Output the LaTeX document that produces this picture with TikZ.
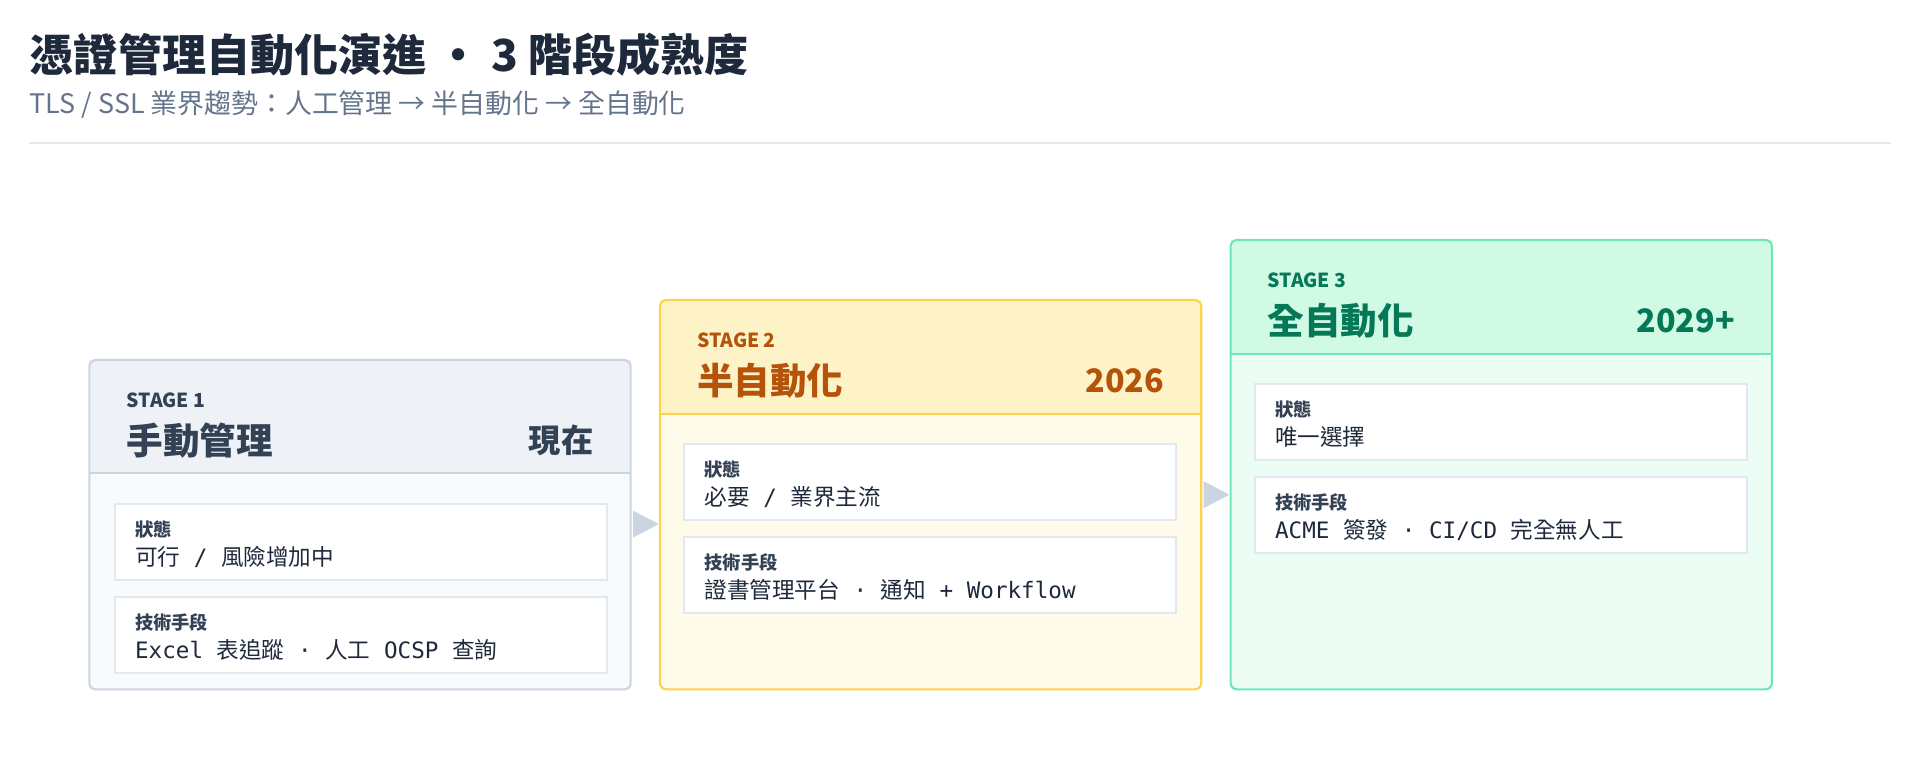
\documentclass[tikz,border=0pt]{standalone}
\usepackage{fontspec}
\setmainfont{Noto Sans CJK TC}
\newfontfamily\monofont{DejaVu Sans Mono}
\newcommand{\mn}[1]{{\monofont #1}}
\definecolor{ink}{HTML}{1E293B}
\definecolor{subgray}{HTML}{64748B}
\definecolor{rulegray}{HTML}{E2E8F0}
\definecolor{sOneHead}{HTML}{EEF2F7}
\definecolor{sOneBody}{HTML}{F8FAFC}
\definecolor{sOneLine}{HTML}{CBD5E1}
\definecolor{sOneText}{HTML}{334155}
\definecolor{sTwoHead}{HTML}{FEF3C7}
\definecolor{sTwoBody}{HTML}{FFFBEB}
\definecolor{sTwoLine}{HTML}{FCD34D}
\definecolor{sTwoText}{HTML}{B45309}
\definecolor{sThreeHead}{HTML}{D1FAE5}
\definecolor{sThreeBody}{HTML}{ECFDF5}
\definecolor{sThreeLine}{HTML}{6EE7B7}
\definecolor{sThreeText}{HTML}{047857}
\definecolor{arrowgray}{HTML}{CBD5E1}
\begin{document}
\begin{tikzpicture}
    [x=0.02cm,y=-0.02cm,
    stageTag/.style={anchor=west,inner sep=0pt,font=\fontsize{9}{11}\selectfont\bfseries},
    stageName/.style={anchor=west,inner sep=0pt,font=\fontsize{17}{20}\selectfont\bfseries},
    stageYear/.style={anchor=east,inner sep=0pt,font=\fontsize{15}{18}\selectfont\bfseries},
    cardBox/.style={draw=rulegray,fill=white,line width=0.8pt,rectangle,anchor=north west,minimum width=8.04cm,minimum height=1.24cm},
    cardKey/.style={anchor=west,inner sep=0pt,font=\fontsize{8.5}{10}\selectfont\bfseries,text=sOneText},
    cardVal/.style={anchor=west,inner sep=0pt,font=\fontsize{10.5}{12}\selectfont,text=ink}]

    % 畫布
    \useasboundingbox (0,0) rectangle (1568,625);

    % 標題
    \node[anchor=west,inner sep=0pt,text=ink,font=\fontsize{20.5}{24}\selectfont\bfseries] (title) at (24,45) {憑證管理自動化演進 ・ 3 階段成熟度};
    \node[anchor=west,inner sep=0pt,text=subgray,font=\fontsize{12.5}{15}\selectfont] (subtitle) at (24,85) {TLS / SSL 業界趨勢：人工管理 → 半自動化 → 全自動化};
    \draw[rulegray,line width=0.8pt] (24,117) -- (1544,117);

    % 階段外框
    \foreach \x/\top/\hb/\hc/\bc/\lc in {73/294/386/sOneHead/sOneBody/sOneLine,
                                         539/245/338/sTwoHead/sTwoBody/sTwoLine,
                                         1005/196/289/sThreeHead/sThreeBody/sThreeLine}
    {
        \fill[\bc] (\x,\hb) rectangle (\x+442,563);
        \fill[\hc] (\x,\top) rectangle (\x+442,\hb);
        \draw[\lc,line width=0.8pt] (\x,\hb) -- (\x+442,\hb);
        \draw[\lc,line width=1pt,rounded corners=3pt] (\x,\top) rectangle (\x+442,563);
    }

    % 階段標題
    \node[stageTag,text=sOneText] (s1tag) at (103,327) {STAGE 1};
    \node[stageName,text=sOneText] (s1name) at (103,360) {手動管理};
    \node[stageYear,text=sOneText] (s1year) at (485,360) {現在};
    \node[stageTag,text=sTwoText] (s2tag) at (569,278) {STAGE 2};
    \node[stageName,text=sTwoText] (s2name) at (569,311) {半自動化};
    \node[stageYear,text=sTwoText] (s2year) at (951,311) {2026};
    \node[stageTag,text=sThreeText] (s3tag) at (1035,229) {STAGE 3};
    \node[stageName,text=sThreeText] (s3name) at (1035,262) {全自動化};
    \node[stageYear,text=sThreeText] (s3year) at (1417,262) {2029+};

    % 卡片
    \node[cardBox] (c1a) at (93,411) {};
    \node[cardBox] (c1b) at (93,487) {};
    \node[cardBox] (c2a) at (558,362) {};
    \node[cardBox] (c2b) at (558,438) {};
    \node[cardBox] (c3a) at (1024,313) {};
    \node[cardBox] (c3b) at (1024,389) {};

    \node[cardKey] at ([xshift=0.34cm,yshift=0.2cm]c1a.west) {狀態};
    \node[cardVal] at ([xshift=0.34cm,yshift=-0.24cm]c1a.west) {可行\mn{ / }風險增加中};
    \node[cardKey] at ([xshift=0.34cm,yshift=0.2cm]c1b.west) {技術手段};
    \node[cardVal] at ([xshift=0.34cm,yshift=-0.24cm]c1b.west) {\mn{Excel }表追蹤\mn{ · }人工\mn{ OCSP }查詢};

    \node[cardKey] at ([xshift=0.34cm,yshift=0.2cm]c2a.west) {狀態};
    \node[cardVal] at ([xshift=0.34cm,yshift=-0.24cm]c2a.west) {必要\mn{ / }業界主流};
    \node[cardKey] at ([xshift=0.34cm,yshift=0.2cm]c2b.west) {技術手段};
    \node[cardVal] at ([xshift=0.34cm,yshift=-0.24cm]c2b.west) {證書管理平台\mn{ · }通知\mn{ + Workflow}};

    \node[cardKey] at ([xshift=0.34cm,yshift=0.2cm]c3a.west) {狀態};
    \node[cardVal] at ([xshift=0.34cm,yshift=-0.24cm]c3a.west) {唯一選擇};
    \node[cardKey] at ([xshift=0.34cm,yshift=0.2cm]c3b.west) {技術手段};
    \node[cardVal] at ([xshift=0.34cm,yshift=-0.24cm]c3b.west) {\mn{ACME }簽發\mn{ · CI/CD }完全無人工};

    % 階段間箭頭
    \fill[arrowgray] (517,417) -- (538,428) -- (517,439) -- cycle;
    \fill[arrowgray] (983,393) -- (1004,404) -- (983,415) -- cycle;
\end{tikzpicture}
\end{document}
